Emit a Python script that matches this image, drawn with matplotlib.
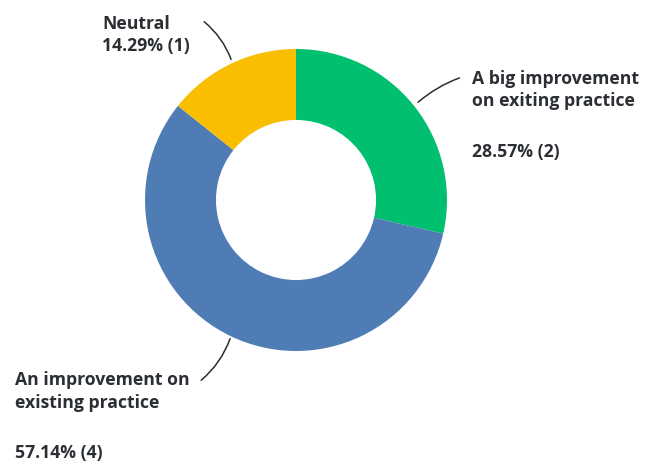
import matplotlib.pyplot as plt

# Datos del gráfico
categorias = ['A big improvement\non exiting practice', 'An improvement on\nexisting practice', 'Neutral']
valores = [2, 4, 1]
porcentajes = ['28.57% (2)', '57.14% (4)', '14.29% (1)']
colores = ['#00BF6F', '#507CB6', '#F9BE00']

W, H = 652, 465
fig = plt.figure(figsize=(W / 100, H / 100), dpi=100)
ax = fig.add_axes([0, 0, 1, 1])

# Donut
cx, cy, r = 296, H - 200, 151
ax.pie(valores, colors=colores, startangle=90, counterclock=False,
       radius=r, center=(cx, cy), frame=True,
       wedgeprops=dict(width=r * 0.47, linewidth=0))
ax.set_xlim(0, W)
ax.set_ylim(0, H)
ax.set_aspect('equal')
ax.axis('off')

txt = dict(fontsize=12.7, fontweight='bold', color='#2B2F33', family='Open Sans')

# Etiquetas
ax.text(102, H - 24, 'Neutral', va='center', ha='left', **txt)
ax.text(102, H - 46, porcentajes[2], va='center', ha='left', **txt)

ax.text(472, H - 79, 'A big improvement', va='center', ha='left', **txt)
ax.text(472, H - 101, 'on exiting practice', va='center', ha='left', **txt)
ax.text(472, H - 152, porcentajes[0], va='center', ha='left', **txt)

ax.text(15, H - 380, 'An improvement on', va='center', ha='left', **txt)
ax.text(15, H - 403, 'existing practice', va='center', ha='left', **txt)
ax.text(15, H - 453, porcentajes[1], va='center', ha='left', **txt)

# Líneas guía
linea = dict(arrowstyle='-', color='#2B2F33', lw=1.1)
ax.annotate('', xy=(232, H - 62), xytext=(202, H - 20),
            arrowprops=dict(connectionstyle='arc3,rad=-0.15', **linea))
ax.annotate('', xy=(416, H - 104), xytext=(462, H - 77),
            arrowprops=dict(connectionstyle='arc3,rad=0.1', **linea))
ax.annotate('', xy=(231, H - 336), xytext=(199, H - 382),
            arrowprops=dict(connectionstyle='arc3,rad=0.15', **linea))

fig.savefig('out.png', dpi=100)
